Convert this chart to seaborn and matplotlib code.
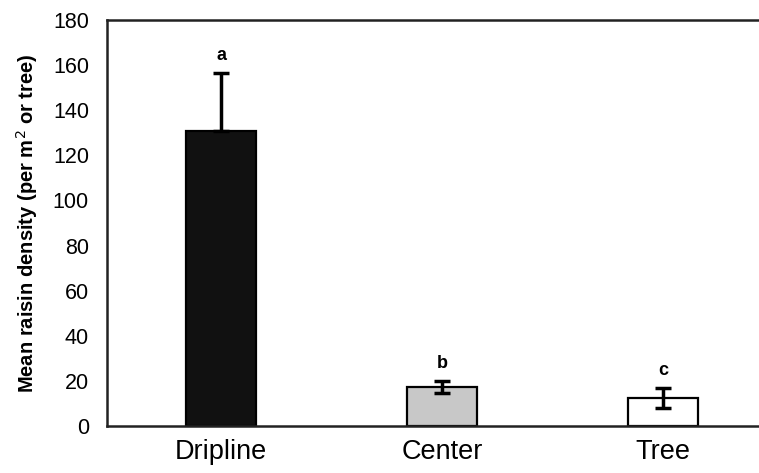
import matplotlib
matplotlib.use("Agg")
import matplotlib.pyplot as plt
import seaborn as sns
import pandas as pd

# Mean raisin density by sampling location
locations = ["Dripline", "Center", "Tree"]
means = [131, 17.3, 12.4]
errors = [25.5, 2.6, 4.4]
letters = ["a", "b", "c"]
bar_colors = ["#111111", "#c8c8c8", "#ffffff"]
y_ticks = [0, 20, 40, 60, 80, 100, 120, 140, 160, 180]

sns.set_style("white")
plt.rcParams["font.family"] = ["Liberation Sans", "DejaVu Sans"]
plt.rcParams["text.color"] = "black"
plt.rcParams["axes.labelcolor"] = "black"
plt.rcParams["xtick.color"] = "black"
plt.rcParams["ytick.color"] = "black"

df = pd.DataFrame({"location": locations, "mean": means})

fig = plt.figure(figsize=(7.59, 4.73), dpi=100)
ax = fig.add_axes([107 / 759, 47 / 473, 670 / 759, 406 / 473])

sns.barplot(data=df, x="location", y="mean", hue="location",
            palette=bar_colors, errorbar=None, width=0.32,
            edgecolor="black", linewidth=1.6, legend=False, ax=ax)

# Upper error bars only for the dark bar, symmetric for the others
lower = [0, errors[1], errors[2]]
ax.errorbar(range(len(locations)), means, yerr=[lower, errors],
            fmt="none", ecolor="black", elinewidth=2.5, capsize=6,
            capthick=2.5, zorder=5)

for i, (m, e, lab) in enumerate(zip(means, errors, letters)):
    ax.text(i, m + e + 4.0, lab, ha="center", va="bottom",
            fontsize=13, fontweight="bold")

ax.set_xlim(-0.516, 2.516)
ax.set_ylim(0, 180)
ax.set_yticks(y_ticks)
ax.tick_params(axis="y", labelsize=15.5, length=0, pad=13)
ax.tick_params(axis="x", labelsize=19.5, length=0, pad=9)
ax.set_xlabel("")
ax.set_ylabel("Mean raisin density (per m$^2$ or tree)", fontsize=14.5,
              fontweight="bold", labelpad=9)

for side in ["left", "bottom", "top"]:
    ax.spines[side].set_visible(True)
    ax.spines[side].set_color("#222222")
    ax.spines[side].set_linewidth(1.8)
ax.spines["right"].set_visible(False)

fig.savefig("out.png", dpi=100)
